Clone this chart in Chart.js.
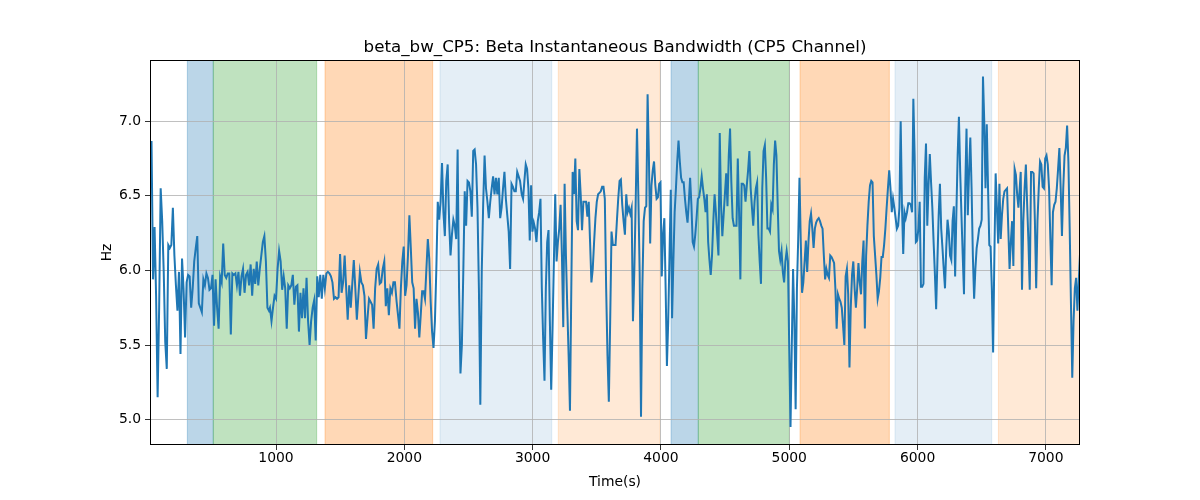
<!DOCTYPE html>
<html>
<head>
<meta charset="utf-8">
<script src="https://cdn.jsdelivr.net/npm/chart.js@4/dist/chart.umd.min.js"></script>
<style>
  html, body { margin: 0; padding: 0; background: #fff; }
  canvas { display: block; }
</style>
</head>
<body>
<canvas id="chart" width="1200" height="500"></canvas>
<script>
// Beta bandwidth (Hz)
const segStart = [18, 953, 1940, 2915, 3886, 4860, 5829, 6804];
const segEnd   = [945, 1927, 2902, 3876, 4850, 5819, 6796, 7266];

const bwSeg1 = [6.86, 6.86, 5.94, 6.29, 5.83, 5.15, 5.75, 6.55, 6.33, 5.99, 5.52, 5.34, 6.17, 6.15, 6.17, 6.42, 6.10, 5.90, 5.73, 5.99, 5.44,
  6.08, 5.88, 5.55, 5.92, 5.97, 5.96, 5.75, 5.88, 6.06, 6.15, 6.23, 5.78, 5.75, 5.72, 5.94, 5.90, 5.98, 5.95, 5.87, 5.88,
  5.97, 5.63, 5.94, 5.75, 5.61, 5.96, 5.92, 6.18, 5.97, 5.95, 5.98, 5.98, 5.57, 5.98, 5.97, 5.98, 5.90, 5.99, 5.83, 5.96,
  6.01, 5.85, 5.97, 5.99, 5.90, 6.04, 5.83, 6.01, 5.91, 6.06, 5.90, 6.01, 6.10, 6.19, 6.23, 6.06, 5.75, 5.73];
const bwSeg2 = [5.75, 5.66, 5.75, 5.83, 5.81, 6.01, 6.13, 6.06, 5.87, 5.96, 5.88, 5.61, 5.90, 5.88, 5.90, 5.97, 5.77, 5.89, 5.90, 5.59,
  5.85, 5.68, 5.88, 5.68, 5.95, 5.66, 5.50, 5.66, 5.75, 5.80, 5.53, 5.96, 5.82, 5.97, 5.81, 5.97, 5.88, 5.98, 5.99, 5.98,
  5.96, 5.92, 5.81, 5.82, 5.81, 5.82, 6.11, 5.85, 5.92, 6.10, 5.88, 5.67, 5.90, 5.75, 5.91, 6.07, 5.88, 5.67, 5.83, 5.99,
  5.92, 5.90, 5.83, 5.54, 5.68, 5.81, 5.79, 5.77, 5.61, 5.88, 6.01, 6.04, 5.91, 5.92, 6.01, 6.06, 5.76, 5.88, 5.70, 5.88,
  5.85, 5.92, 5.92];
const bwSeg3 = [5.79, 5.70, 5.61, 5.88, 6.06, 6.16, 5.83, 5.90, 6.10, 6.37, 6.15, 5.92, 5.88, 5.61, 5.81, 5.72, 5.55, 5.70, 5.86, 5.86,
  5.81, 6.01, 6.21, 6.08, 5.79, 5.59, 5.48, 5.66, 6.01, 6.46, 6.34, 6.46, 6.72, 6.39, 6.23, 6.60, 6.71, 6.33, 6.10, 6.24,
  6.34, 6.30, 6.21, 6.81, 5.88, 5.31, 5.50, 5.99, 6.53, 6.30, 6.60, 6.59, 6.53, 6.36, 6.80, 6.81, 6.71, 6.42, 5.88, 5.10,
  5.99, 6.44, 6.77, 6.55, 6.46, 6.35, 6.46, 6.55, 6.63, 6.51, 6.62, 6.51, 6.62, 6.35, 6.42, 6.55, 6.66, 6.48, 6.37, 6.26,
  6.01, 6.58, 6.56, 6.53, 6.53, 6.66, 6.63, 6.60];
const bwSeg4 = [6.51, 6.48, 6.60, 6.71, 6.68, 6.55, 6.20, 6.57, 6.26, 6.32, 6.28, 6.19, 6.33, 6.39, 6.48, 5.88, 5.54, 5.26, 5.88, 6.19,
  6.27, 5.66, 5.20, 5.61, 6.06, 6.51, 6.06, 6.19, 6.28, 6.44, 6.10, 5.62, 6.58, 6.10, 5.75, 5.43, 5.06, 5.88, 6.66, 6.51,
  6.75, 6.33, 6.27, 6.68, 6.51, 6.27, 6.46, 6.46, 6.46, 6.36, 6.46, 6.19, 5.92, 6.01, 6.19, 6.35, 6.46, 6.51, 6.52, 6.53,
  6.56, 6.56, 6.48, 5.88, 5.43, 5.12, 5.66, 6.26, 6.17, 6.17, 6.17, 6.33, 6.48, 6.60, 6.61, 6.44, 6.33, 6.24, 6.51, 6.39,
  6.42, 6.38, 6.42, 5.66, 5.99, 6.44, 6.95, 6.51, 5.99, 5.02, 5.88, 6.33, 6.42];
const bwSeg5 = [6.43, 7.18, 6.77, 6.18, 6.57, 6.67, 6.73, 6.57, 6.48, 6.49, 6.58, 6.59, 5.96, 6.24, 6.35, 5.88, 5.36, 5.66, 6.10, 6.54,
  5.68, 6.06, 6.39, 6.55, 6.73, 6.87, 6.73, 6.62, 6.59, 6.59, 6.48, 6.39, 6.32, 6.46, 6.62, 6.44, 6.19, 6.16, 6.24, 6.35,
  6.48, 6.49, 6.55, 6.63, 6.55, 6.48, 6.39, 6.51, 6.19, 6.07, 5.97, 6.10, 6.33, 6.51, 6.39, 6.24, 6.10, 6.92, 6.44, 6.23,
  6.37, 6.51, 6.65, 6.43, 6.77, 6.95, 6.59, 6.35, 6.30, 6.30, 6.30, 6.75, 6.39, 5.94, 6.58, 6.58, 6.57, 6.46, 6.57, 6.67,
  6.80, 6.55, 6.42, 6.30, 6.46, 6.55, 6.59, 6.24, 6.06, 5.91, 6.55, 6.80, 6.84, 6.62, 6.28, 6.28, 6.26];
const bwSeg6 = [6.44, 6.41, 6.71, 6.87, 6.77, 6.44, 6.13, 6.07, 6.13, 5.99, 5.92, 6.06, 6.13, 6.06, 5.48, 4.95, 5.50, 6.01, 5.66, 5.07,
  5.88, 6.21, 6.62, 6.19, 5.85, 5.92, 6.06, 6.20, 5.99, 6.19, 6.33, 6.38, 6.28, 6.15, 6.28, 6.32, 6.34, 6.35, 6.33, 6.30,
  6.28, 6.10, 5.94, 6.01, 5.97, 5.95, 6.10, 6.09, 6.07, 6.05, 5.88, 5.61, 5.84, 5.81, 5.79, 5.75, 5.63, 5.50, 5.96, 6.01,
  5.84, 5.35, 5.75, 5.97, 6.06, 5.88, 5.75, 5.88, 6.05, 5.92, 5.84, 6.06, 6.20, 5.61, 6.10, 6.30, 6.46, 6.57, 6.60, 6.59,
  6.23, 6.10, 5.97, 5.81, 5.86, 5.95, 6.09, 6.09, 6.17, 6.28, 6.42, 6.55, 6.67, 6.55, 6.39, 6.48, 6.42];
const bwSeg7 = [6.35, 6.28, 6.30, 6.42, 7.00, 6.44, 6.11, 6.39, 6.35, 6.39, 6.45, 6.45, 6.44, 6.39, 7.15, 6.77, 6.19, 6.20, 6.28, 6.46,
  5.89, 5.89, 5.91, 6.62, 6.85, 6.30, 6.57, 6.78, 6.59, 6.42, 6.19, 5.98, 5.74, 6.06, 6.37, 6.58, 6.28, 6.15, 6.01, 5.88,
  6.15, 6.34, 6.26, 6.10, 6.07, 6.33, 6.43, 5.96, 6.39, 6.77, 7.03, 6.66, 6.37, 6.10, 5.84, 6.55, 6.95, 6.37, 6.66, 6.89,
  6.55, 6.10, 5.81, 6.01, 6.15, 6.21, 6.28, 6.30, 6.34, 7.30, 7.00, 6.55, 6.98, 6.55, 6.17, 6.16, 5.88, 5.45, 6.10, 6.65,
  6.42, 6.18, 6.58, 6.21, 6.37, 6.48, 6.53, 6.54, 6.55, 6.28, 6.01, 6.19, 6.33, 6.03, 6.68, 6.64, 6.51, 6.42, 6.55];
const bwSeg8 = [6.66, 5.87, 6.33, 6.55, 6.71, 6.44, 6.19, 5.87, 6.66, 6.66, 6.65, 6.33, 5.88, 6.33, 6.55, 6.73, 6.71, 6.56, 6.55, 6.75,
  6.77, 6.71, 6.55, 6.21, 5.90, 6.39, 6.44, 6.46, 6.55, 6.68, 6.82, 6.55, 6.23, 6.55, 6.77, 6.82, 6.97, 6.73, 6.28, 5.77,
  5.28, 5.66, 5.88, 5.95, 5.73, 5.92, 6.11];

// shaded phases (time in s)
const phaseStart = [309, 511, 1382, 2278, 3200, 4079, 4291, 5084, 5824, 6630];
const phaseEnd   = [511, 1317, 2221, 3149, 3993, 4291, 5001, 5780, 6578, 7266];
const phaseKind  = ['blue', 'green', 'orange', 'ltblue', 'ltorange', 'blue', 'green', 'orange', 'ltblue', 'ltorange'];

const xTicks = [1000, 2000, 3000, 4000, 5000, 6000, 7000];
const yTicks = [5.0, 5.5, 6.0, 6.5, 7.0];

const phaseColors = {
    blue: 'rgba(31,119,180,0.3)',
    green: 'rgba(44,160,44,0.3)',
    orange: 'rgba(255,127,14,0.3)',
    ltblue: 'rgba(31,119,180,0.12)',
    ltorange: 'rgba(255,127,14,0.17)'
};

const segments = [bwSeg1, bwSeg2, bwSeg3, bwSeg4, bwSeg5, bwSeg6, bwSeg7, bwSeg8];
const points = [];
segments.forEach((seg, i) => {
    const step = (segEnd[i] - segStart[i]) / (seg.length - 1);
    seg.forEach((v, j) => points.push({ x: segStart[i] + j * step, y: v }));
});

const FONT = 'DejaVu Sans';

const phasePlugin = {
    id: 'phases',
    beforeDraw(chart) {
        const { ctx, chartArea: a, scales: { x } } = chart;
        ctx.save();
        ctx.beginPath();
        ctx.rect(a.left, a.top, a.right - a.left, a.bottom - a.top);
        ctx.clip();
        phaseStart.forEach((s, i) => {
            const x0 = x.getPixelForValue(s);
            const x1 = x.getPixelForValue(phaseEnd[i]);
            ctx.fillStyle = phaseColors[phaseKind[i]];
            ctx.fillRect(x0, a.top, x1 - x0, a.bottom - a.top);
            ctx.strokeStyle = phaseColors[phaseKind[i]];
            ctx.lineWidth = 1;
            ctx.strokeRect(x0, a.top - 1, x1 - x0, a.bottom - a.top + 2);
        });
        ctx.restore();
    },
    afterDraw(chart) {
        const { ctx, chartArea: a } = chart;
        ctx.save();
        ctx.strokeStyle = '#000';
        ctx.lineWidth = 1;
        ctx.strokeRect(a.left + 0.5, a.top + 0.5, a.right - a.left - 1, a.bottom - a.top - 1);

        ctx.fillStyle = '#000';
        ctx.textAlign = 'center';
        ctx.textBaseline = 'alphabetic';
        ctx.font = '16.7px "' + FONT + '"';
        ctx.fillText('beta_bw_CP5: Beta Instantaneous Bandwidth (CP5 Channel)', (a.left + a.right) / 2, 52);

        ctx.font = '13.9px "' + FONT + '"';
        ctx.fillText('Time(s)', (a.left + a.right) / 2, 486);

        ctx.translate(111, (a.top + a.bottom) / 2);
        ctx.rotate(-Math.PI / 2);
        ctx.fillText('Hz', 0, 0);
        ctx.restore();
    }
};

new Chart(document.getElementById('chart'), {
    type: 'line',
    data: {
        datasets: [{
            data: points,
            borderColor: '#1f77b4',
            borderWidth: 2,
            pointRadius: 0,
            tension: 0,
            fill: false
        }]
    },
    options: {
        responsive: false,
        animation: false,
        layout: { padding: { top: 60, right: 120, left: 0, bottom: 0 } },
        plugins: { legend: { display: false }, tooltip: { enabled: false } },
        scales: {
            x: {
                type: 'linear',
                min: 18,
                max: 7266,
                afterFit: s => { s.height = 55; },
                afterBuildTicks: s => { s.ticks = xTicks.map(v => ({ value: v })); },
                grid: { color: '#b0b0b0', lineWidth: 0.8, tickColor: '#000', tickLength: 5 },
                border: { display: false },
                ticks: {
                    color: '#000',
                    font: { family: FONT, size: 13.9 },
                    padding: 0,
                    maxRotation: 0,
                    autoSkip: false,
                    callback: v => String(v)
                }
            },
            y: {
                min: 4.83,
                max: 7.41,
                afterFit: s => { s.width = 150; },
                afterBuildTicks: s => { s.ticks = yTicks.map(v => ({ value: v })); },
                grid: { color: '#b0b0b0', lineWidth: 0.8, tickColor: '#000', tickLength: 5 },
                border: { display: false },
                ticks: {
                    color: '#000',
                    font: { family: FONT, size: 13.9 },
                    padding: 4,
                    autoSkip: false,
                    callback: v => v.toFixed(1)
                }
            }
        }
    },
    plugins: [phasePlugin]
});
</script>
</body>
</html>
